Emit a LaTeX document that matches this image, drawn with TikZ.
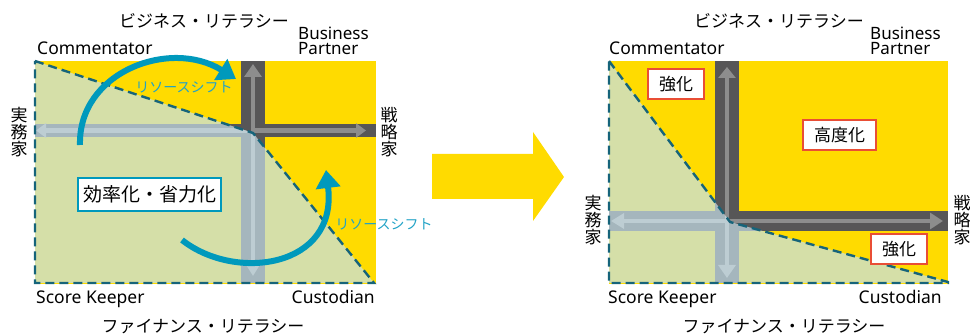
\documentclass[tikz,border=0pt]{standalone}
\usepackage{fontspec}
\setmainfont{Noto Sans}
\newfontfamily\jp{Noto Sans CJK JP}
\usetikzlibrary{arrows.meta}
\definecolor{yel}{HTML}{FFDB00}
\definecolor{grn}{HTML}{D5DFA8}
\definecolor{dkbar}{HTML}{575657}
\definecolor{dkin}{HTML}{8D8D8D}
\definecolor{ltbar}{HTML}{A5B6BD}
\definecolor{ltin}{HTML}{BDCDD3}
\definecolor{dashc}{HTML}{16647A}
\definecolor{teal}{HTML}{0099BC}
\definecolor{tealtxt}{HTML}{22A3C6}
\definecolor{redb}{HTML}{E94E35}
\begin{document}
\begin{tikzpicture}[x=1pt,y=-1pt,
  lat/.style={font=\fontsize{17.5}{15}\selectfont, inner sep=0pt},
  bp/.style={font=\fontsize{17}{15}\selectfont, inner sep=0pt, align=left, anchor=base west},
  jpl/.style={font=\jp\fontsize{17}{17}\selectfont, inner sep=0pt},
  vjp/.style={font=\jp\fontsize{17}{17}\selectfont, inner sep=0pt, align=center},
  shiftlbl/.style={font=\jp\fontsize{14}{14}\selectfont, text=tealtxt, inner sep=0pt},
  inln/.style={line width=4.5pt, line cap=rect},
  dashln/.style={draw=dashc, line width=2.4pt, dash pattern=on 9pt off 5pt},
  bigarc/.style={draw=teal, line width=6pt},
  bluebox/.style={draw=teal, line width=2.5pt, fill=white, font=\jp\fontsize{19}{19}\selectfont, minimum width=143pt, minimum height=33pt, inner sep=0pt},
  redbox/.style={draw=redb, line width=2.2pt, fill=white, font=\jp\fontsize{17}{17}\selectfont, minimum height=30pt, inner sep=0pt}
]
\useasboundingbox (0,0) rectangle (970,336);

% ================= LEFT PANEL =================
\fill[yel] (35,61) rectangle (376,284.5);
\fill[grn] (35,61) -- (253,133) -- (374,283) -- (35,283) -- cycle;
\fill[dkbar] (241,61) rectangle (265,283);
\fill[dkbar] (35,124) rectangle (376,137);
\coordinate (Lc) at (253,130.5);
\coordinate (Lu) at (253,64);
\coordinate (Lr) at (366,130.5);
\coordinate (Ll) at (36,130.5);
\coordinate (Ld) at (253,276);
\draw[inln, draw=dkin, -{Triangle[width=17pt,length=13pt]}] (Lc) -- (Lu);
\draw[inln, draw=dkin, -{Triangle[width=14pt,length=10pt]}] (Lc) -- (Lr);
\begin{scope}
  \clip (35,61) -- (253,133) -- (374,283) -- (35,283) -- cycle;
  \fill[ltbar] (241,61) rectangle (265,283);
  \fill[ltbar] (35,124) rectangle (376,137);
  \draw[inln, draw=ltin, -{Triangle[width=17pt,length=13pt]}] (Lc) -- (Lu);
  \draw[inln, draw=ltin, -{Triangle[width=14pt,length=10pt]}] (Lc) -- (Lr);
  \draw[inln, draw=ltin, -{Triangle[width=14pt,length=10pt]}] (Lc) -- (Ll);
  \draw[inln, draw=ltin, -{Triangle[width=14pt,length=12pt]}] (Lc) -- (Ld);
\end{scope}
\draw[dashln] (35,61) -- (253,133) -- (374,283) -- (35,283) -- cycle;

% teal arcs
\coordinate (A1s) at (80,145);
\coordinate (A1e) at (236,79);
\draw[bigarc, -{Triangle[width=24pt,length=18pt]}] (A1s) .. controls (78,72) and (170,38) .. (A1e);
\coordinate (A2s) at (182,240);
\coordinate (A2e) at (326,170);
\draw[bigarc, -{Triangle[width=24pt,length=18pt]}] (A2s) .. controls (235,282) and (338,268) .. (A2e);
\node[shiftlbl] (rs1) at (184,87) {リソースシフト};
\node[shiftlbl] (rs2) at (384,224) {リソースシフト};
\node[bluebox] (eff) at (149.5,194.5) {効率化・省力化};

% labels
\node[jpl] (Lbl) at (204,21) {ビジネス・リテラシー};
\node[lat, anchor=base west] (Lcom) at (37,55) {Commentator};
\node[bp] (Lbp) at (298,55) {Business\\Partner};
\node[vjp] (Ljm) at (19,132) {実\\務\\家};
\node[vjp] (Lsr) at (389,132) {戦\\略\\家};
\node[lat, anchor=base west] (Lsk) at (36,303.5) {Score Keeper};
\node[lat, anchor=base east] (Lcu) at (375,303.5) {Custodian};
\node[jpl] (Lfl) at (203,327) {ファイナンス・リテラシー};

% ================= BIG ARROW =================
\fill[yel] (432,154) -- (533,154) -- (533,132) -- (564,177) -- (533,221) -- (533,199) -- (432,199) -- cycle;

% ================= RIGHT PANEL =================
\fill[yel] (609,61) rectangle (948,284.5);
\fill[grn] (609,61) -- (730,222) -- (948,282) -- (948,283) -- (609,283) -- cycle;
\fill[dkbar] (715,61) rectangle (739,283);
\fill[dkbar] (609,211) rectangle (948,231);
\coordinate (Rc) at (727,221);
\coordinate (Ru) at (727,67);
\coordinate (Rr) at (943,221);
\coordinate (Rl) at (611,221);
\coordinate (Rd) at (727,278);
\draw[inln, draw=dkin, -{Triangle[width=17pt,length=11pt]}] (Rc) -- (Ru);
\draw[inln, draw=dkin, -{Triangle[width=16pt,length=13pt]}] (Rc) -- (Rr);
\begin{scope}
  \clip (609,61) -- (730,222) -- (948,282) -- (948,283) -- (609,283) -- cycle;
  \fill[ltbar] (715,61) rectangle (739,283);
  \fill[ltbar] (609,211) rectangle (948,231);
  \draw[inln, draw=ltin, -{Triangle[width=17pt,length=11pt]}] (Rc) -- (Ru);
  \draw[inln, draw=ltin, -{Triangle[width=16pt,length=13pt]}] (Rc) -- (Rr);
  \draw[inln, draw=ltin, -{Triangle[width=15pt,length=13pt]}] (Rc) -- (Rl);
  \draw[inln, draw=ltin, -{Triangle[width=17pt,length=13pt]}] (Rc) -- (Rd);
\end{scope}
\draw[dashln] (609,61) -- (730,222) -- (948,282) -- (948,283) -- (609,283) -- cycle;

\node[redbox, minimum width=56pt] (s1) at (676,84) {強化};
\node[redbox, minimum width=73pt] (s2) at (839.5,135) {高度化};
\node[redbox, minimum width=56pt] (s3) at (899,249) {強化};

\node[jpl] (Rbl) at (779,21) {ビジネス・リテラシー};
\node[lat, anchor=base west] (Rcom) at (609,55) {Commentator};
\node[bp] (Rbp) at (870,55) {Business\\Partner};
\node[vjp] (Rjm) at (593,220) {実\\務\\家};
\node[vjp] (Rsr) at (962,220) {戦\\略\\家};
\node[lat, anchor=base west] (Rsk) at (608,303.5) {Score Keeper};
\node[lat, anchor=base east] (Rcu) at (942,303.5) {Custodian};
\node[jpl] (Rfl) at (784,327) {ファイナンス・リテラシー};
\end{tikzpicture}
\end{document}
